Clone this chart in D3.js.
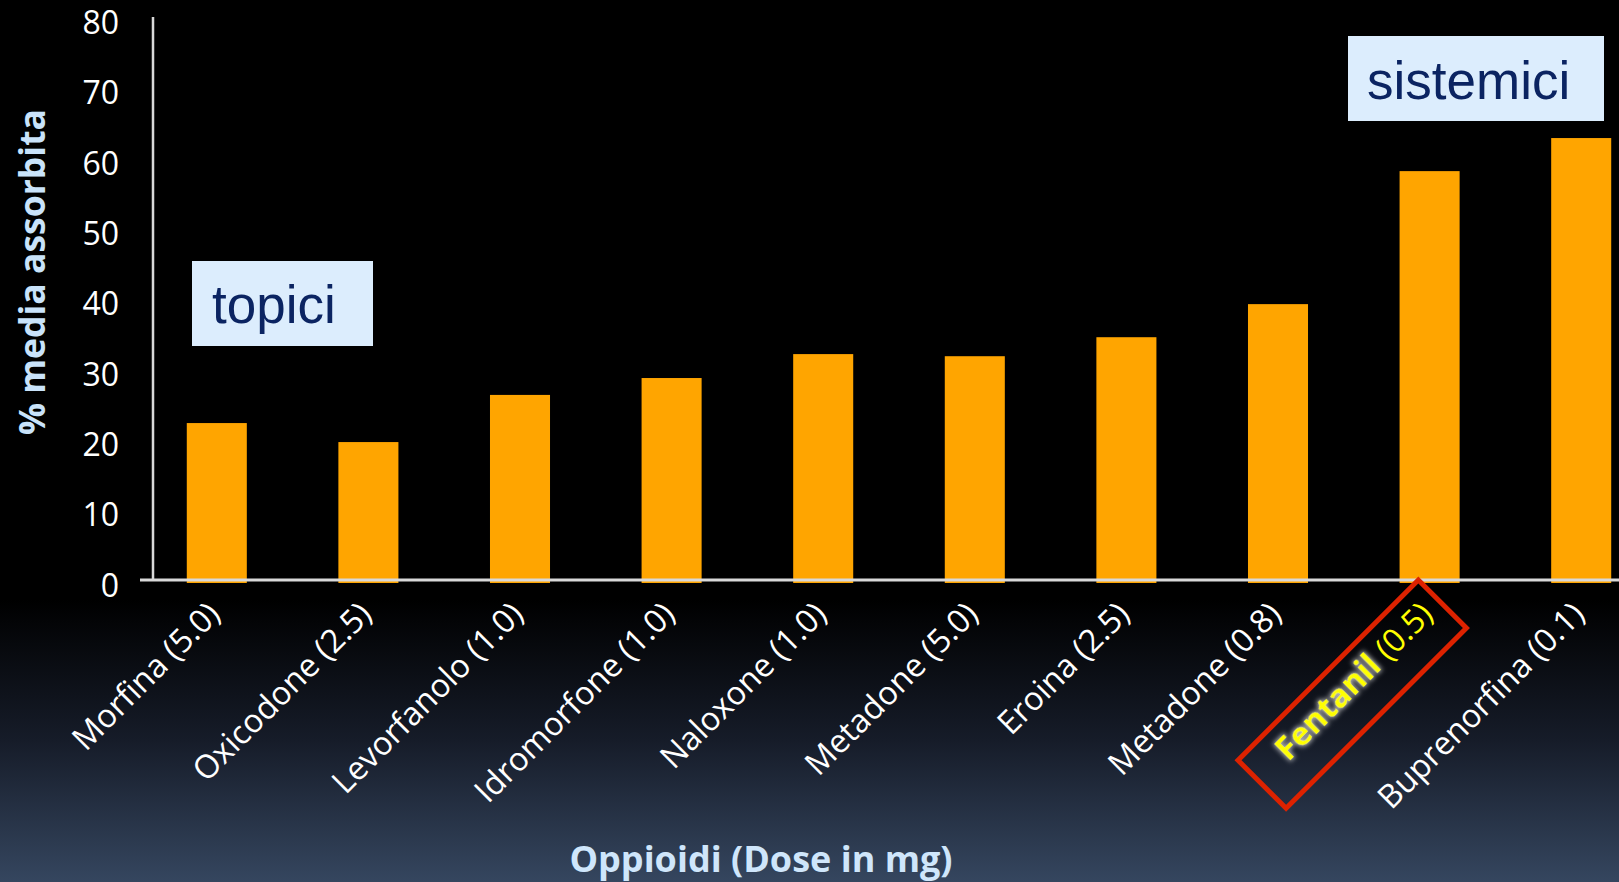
<!DOCTYPE html>
<html>
<head>
<meta charset="utf-8">
<script src="https://cdn.jsdelivr.net/npm/d3@7"></script>
<style>
  html, body { margin: 0; padding: 0; background: #000; overflow: hidden; }
  svg { display: block; }
</style>
</head>
<body>
<svg id="chart" width="1619" height="882"></svg>
<script>
// ---- data ----
const drugNames = ["Morfina", "Oxicodone", "Levorfanolo", "Idromorfone", "Naloxone",
                   "Metadone", "Eroina", "Metadone", "Fentanil", "Buprenorfina"];
const doses = ["5.0", "2.5", "1.0", "1.0", "1.0", "5.0", "2.5", "0.8", "0.5", "0.1"];
const absorbed = [22.3, 19.6, 26.3, 28.7, 32.1, 31.8, 34.5, 39.2, 58.1, 62.8];
const yTicks = [0, 10, 20, 30, 40, 50, 60, 70, 80];
const highlighted = 8; // Fentanil
const yTitle = "% media assorbita";
const xTitle = "Oppioidi (Dose in mg)";
const groupLabels = ["topici", "sistemici"];

const categories = drugNames.map((n, i) => i + "|" + n);

const W = 1619, H = 882;
const svg = d3.select("#chart");

// background gradient
const defs = svg.append("defs");
const grad = defs.append("linearGradient").attr("id", "bg")
  .attr("x1", 0).attr("y1", 0).attr("x2", 0).attr("y2", 1);
grad.append("stop").attr("offset", "0%").attr("stop-color", "#000000");
grad.append("stop").attr("offset", "68%").attr("stop-color", "#000000");
grad.append("stop").attr("offset", "84%").attr("stop-color", "#161c29");
grad.append("stop").attr("offset", "100%").attr("stop-color", "#35465f");
svg.append("rect").attr("width", W).attr("height", H).attr("fill", "url(#bg)");

const glow = defs.append("filter").attr("id", "glow")
  .attr("x", "-20%").attr("y", "-50%").attr("width", "140%").attr("height", "200%");
glow.append("feMorphology").attr("in", "SourceAlpha").attr("operator", "dilate").attr("radius", 1.5).attr("result", "d");
glow.append("feGaussianBlur").attr("in", "d").attr("stdDeviation", 2.5).attr("result", "b");
glow.append("feFlood").attr("flood-color", "#c8c8c8").attr("flood-opacity", 0.9).attr("result", "c");
glow.append("feComposite").attr("in", "c").attr("in2", "b").attr("operator", "in").attr("result", "g");
const fm = glow.append("feMerge");
fm.append("feMergeNode").attr("in", "g");
fm.append("feMergeNode").attr("in", "SourceGraphic");

// scales
const x = d3.scaleBand().domain(categories).range([141, 1657])
  .paddingInner(0.604).paddingOuter(0.302);
const y = d3.scaleLinear().domain([0, 80]).range([580, 17]);

// bars
svg.append("g").selectAll("rect").data(absorbed).join("rect")
  .attr("x", (d, i) => x(categories[i]))
  .attr("width", x.bandwidth())
  .attr("y", d => y(d))
  .attr("height", d => y(0) + 3 - y(d))
  .attr("fill", "#ffa500");

// y axis
const yAxis = svg.append("g").attr("transform", "translate(153,0)")
  .call(d3.axisLeft(y).tickValues(yTicks).tickSize(0).tickPadding(34));
yAxis.select(".domain").remove();
yAxis.selectAll("text")
  .attr("fill", "#ffffff")
  .attr("font-family", "'Open Sans', sans-serif")
  .attr("font-size", 32)
  .attr("dy", "0.32em")
  .attr("transform", "translate(0,6)");

svg.append("line").attr("x1", 153).attr("x2", 153).attr("y1", y(80)).attr("y2", y(0))
  .attr("stroke", "#d9d9d9").attr("stroke-width", 2.5);
svg.append("line").attr("x1", 140).attr("x2", W).attr("y1", y(0)).attr("y2", y(0))
  .attr("stroke", "#d9d9d9").attr("stroke-width", 3);

// x axis labels
const xAxis = svg.append("g").attr("transform", "translate(0," + y(0) + ")")
  .call(d3.axisBottom(x).tickSize(0).tickFormat(""));
xAxis.select(".domain").remove();
xAxis.selectAll(".tick").each(function(d, i) {
  const g = d3.select(this);
  g.select("text").remove();
  const lab = g.append("g").attr("transform", "translate(5,36) rotate(-45)");
  if (i === highlighted) {
    lab.append("rect")
      .attr("x", -241).attr("y", -37).attr("width", 255).attr("height", 68)
      .attr("fill", "none").attr("stroke", "#dd2200").attr("stroke-width", 5);
    const t = lab.append("text").attr("text-anchor", "end")
      .attr("font-family", "'Open Sans', sans-serif").attr("font-size", 32.5)
      .attr("fill", "#ffff00");
    t.append("tspan").attr("font-weight", "bold").attr("filter", "url(#glow)").text(drugNames[i]);
    t.append("tspan").text(" (" + doses[i] + ")");
  } else {
    lab.append("text").attr("text-anchor", "end")
      .attr("font-family", "'Open Sans', sans-serif").attr("font-size", 32.5)
      .attr("fill", "#ffffff")
      .text(drugNames[i] + " (" + doses[i] + ")");
  }
});

// axis titles
svg.append("text")
  .attr("transform", "translate(45,272) rotate(-90)")
  .attr("text-anchor", "middle")
  .attr("font-family", "'Open Sans', sans-serif").attr("font-weight", "bold")
  .attr("font-size", 35.5).attr("fill", "#c9e3fa")
  .text(yTitle);
svg.append("text")
  .attr("x", 761).attr("y", 872)
  .attr("text-anchor", "middle")
  .attr("font-family", "'Open Sans', sans-serif").attr("font-weight", "bold")
  .attr("font-size", 36).attr("fill", "#cfe6fb")
  .text(xTitle);

// group label boxes
const boxes = [
  {label: groupLabels[0], x: 192, y: 261, w: 181, h: 85, tx: 212, ty: 323},
  {label: groupLabels[1], x: 1348, y: 36, w: 256, h: 85, tx: 1367, ty: 99}
];
const bg = svg.append("g").selectAll("g").data(boxes).join("g");
bg.append("rect").attr("x", d => d.x).attr("y", d => d.y).attr("width", d => d.w).attr("height", d => d.h)
  .attr("fill", "#dcedfd");
bg.append("text").attr("x", d => d.tx).attr("y", d => d.ty)
  .attr("font-family", "'Liberation Sans', Arial, sans-serif").attr("font-size", 53)
  .attr("fill", "#0b2462").text(d => d.label);
</script>
</body>
</html>
